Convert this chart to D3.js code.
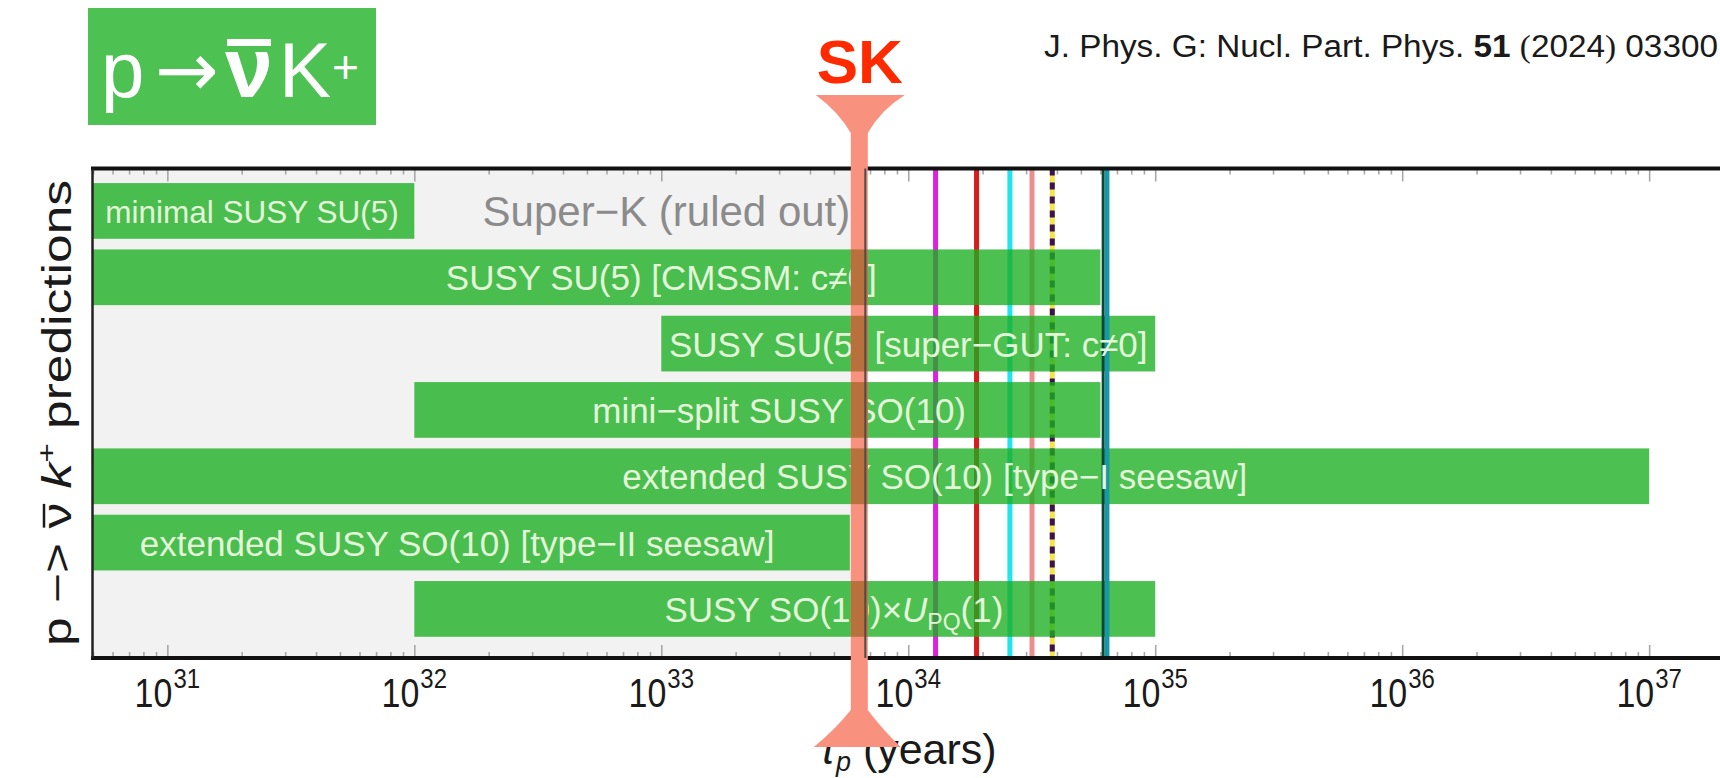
<!DOCTYPE html>
<html>
<head>
<meta charset="utf-8">
<script src="https://cdn.jsdelivr.net/npm/d3@7"></script>
<style>
  html, body { margin: 0; padding: 0; background: #ffffff; overflow: hidden; }
  svg { display: block; }
  text { font-family: "Liberation Sans", Arial, Helvetica, sans-serif; }
</style>
</head>
<body>
<svg id="chart" width="1720" height="778"></svg>
<script>
// ---------------- data ----------------
const models = [
  "minimal SUSY SU(5)",
  "SUSY SU(5) [CMSSM: c\u22600]",
  "SUSY SU(5) [super\u2212GUT: c\u22600]",
  "mini\u2212split SUSY SO(10)",
  "extended SUSY SO(10) [type\u2212I seesaw]",
  "extended SUSY SO(10) [type\u2212II seesaw]",
  "SUSY SO(10)\u00d7U_PQ(1)"
];
const lowerYears = [5e30, 5e30, 1e33, 1e32, 5e30, 5e30, 1e32];
const upperYears = [1e32, 6e34, 1e35, 6e34, 1e37, 5.8e33, 1e35];
const labelCentreYears = [2.2e31, 1e33, 1e34, 3e33, 1.28e34, 1.49e32, 5e33];
const superKLimit = 6.7e33;
const sensitivityYears = [1.29e34, 1.89e34, 2.58e34, 3.17e34, 3.83e34, 6.3e34];
const majorTicks = [1e31, 1e32, 1e33, 1e34, 1e35, 1e36, 1e37];
const tickExponents = ["31", "32", "33", "34", "35", "36", "37"];

// ---------------- styles ----------------
const sensitivityStyles = [
  { color: "#e020e0" },
  { color: "#d81c1c" },
  { color: "#22e4f0" },
  { color: "#ec8e8e" },
  { color: "#f3e44a", dash: "#3b1350" },
  { color: "#1598aa", edge: "#0c4636", top: true }
];

const svg = d3.select("#chart");
const plot = { left: 93, right: 1723.5, top: 168.5, bottom: 658 };
const x = d3.scaleLog().domain([5e30, 2e37]).range([plot.left, plot.right]);
const y = d3.scaleLinear().domain([-0.64, 6.74]).range([plot.top, plot.bottom]);
const barHalf = 0.42;

const defs = svg.append("defs");
defs.append("clipPath").attr("id", "plotClip")
  .append("rect").attr("x", plot.left).attr("y", plot.top)
  .attr("width", plot.right - plot.left).attr("height", plot.bottom - plot.top);

const gPlot = svg.append("g").attr("clip-path", "url(#plotClip)");

// Super-K excluded region
gPlot.append("rect")
  .attr("x", plot.left).attr("y", plot.top)
  .attr("width", x(superKLimit) - plot.left)
  .attr("height", plot.bottom - plot.top)
  .attr("fill", "#f2f2f2");

// future sensitivity lines
function drawSensitivity(g, i) {
  const st = sensitivityStyles[i];
  const xv = x(sensitivityYears[i]);
  if (st.edge) {
    g.append("line").attr("x1", xv - 2.5).attr("x2", xv - 2.5)
      .attr("y1", plot.top).attr("y2", plot.bottom)
      .attr("stroke", st.edge).attr("stroke-width", 3);
    g.append("line").attr("x1", xv + 1.5).attr("x2", xv + 1.5)
      .attr("y1", plot.top).attr("y2", plot.bottom)
      .attr("stroke", st.color).attr("stroke-width", 4.5);
    return;
  }
  g.append("line").attr("x1", xv).attr("x2", xv)
    .attr("y1", plot.top).attr("y2", plot.bottom)
    .attr("stroke", st.color).attr("stroke-width", 5);
  if (st.dash) {
    g.append("line").attr("x1", xv).attr("x2", xv)
      .attr("y1", plot.top).attr("y2", plot.bottom)
      .attr("stroke", st.dash).attr("stroke-width", 5)
      .attr("stroke-dasharray", "7,7");
  }
}
sensitivityYears.forEach((v, i) => { if (!sensitivityStyles[i].top) drawSensitivity(gPlot, i); });

// bars
gPlot.selectAll("rect.bar").data(models).join("rect")
  .attr("class", "bar")
  .attr("x", (d, i) => x(lowerYears[i]))
  .attr("width", (d, i) => x(upperYears[i]) - x(lowerYears[i]))
  .attr("y", (d, i) => y(i - barHalf))
  .attr("height", (d, i) => y(i + barHalf) - y(i - barHalf))
  .attr("fill", "rgb(26,174,31)")
  .attr("fill-opacity", 0.78);

// ticks (inside, top and bottom)
const allTicks = x.ticks();
const minorTicks = allTicks.filter(t => !majorTicks.some(m => Math.abs(m - t) / m < 1e-6));
function tickAxis(axisFn, yPos, vals, len) {
  const g = svg.append("g").attr("transform", `translate(0,${yPos})`)
    .call(axisFn(x).tickValues(vals).tickSize(-len).tickFormat(""));
  g.select(".domain").remove();
  g.selectAll(".tick line").attr("stroke", "#a8a8a8").attr("stroke-width", 1.6);
}
tickAxis(d3.axisBottom, plot.bottom, majorTicks, 13);
tickAxis(d3.axisBottom, plot.bottom, minorTicks, 6);
tickAxis(d3.axisTop, plot.top, majorTicks, 13);
tickAxis(d3.axisTop, plot.top, minorTicks, 6);

// sensitivity lines drawn over the bars
const gTop = svg.append("g").attr("clip-path", "url(#plotClip)");
sensitivityYears.forEach((v, i) => { if (sensitivityStyles[i].top) drawSensitivity(gTop, i); });

// bar labels
const labelFill = "#e3f6da";
models.forEach((name, i) => {
  const fs = i === 0 ? 31.5 : 35;
  const g = svg.append("g")
    .attr("transform", `translate(${x(labelCentreYears[i])},${y(i) + 0.37 * fs})`);
  const t = g.append("text").attr("text-anchor", "middle")
    .attr("font-size", fs).attr("fill", labelFill);
  if (name.includes("U_PQ")) {
    const [pre, post] = name.split("U_PQ");
    t.append("tspan").text(pre);
    t.append("tspan").attr("font-style", "italic").text("U");
    t.append("tspan").attr("font-size", 23).attr("dy", 8).text("PQ");
    t.append("tspan").attr("dy", -8).text(post);
  } else {
    t.text(name);
  }
});

// Super-K label
svg.append("text")
  .attr("x", x(superKLimit) - 15).attr("y", y(0) + 15)
  .attr("text-anchor", "end").attr("font-size", 42)
  .attr("fill", "#8b8b8b")
  .text("Super\u2212K (ruled out)");

// frame
svg.append("line").attr("x1", plot.left - 2).attr("x2", 1720).attr("y1", plot.top).attr("y2", plot.top)
  .attr("stroke", "#111").attr("stroke-width", 4);
svg.append("line").attr("x1", plot.left - 2).attr("x2", 1720).attr("y1", plot.bottom).attr("y2", plot.bottom)
  .attr("stroke", "#111").attr("stroke-width", 4);
svg.append("line").attr("x1", plot.left - 0.5).attr("x2", plot.left - 0.5).attr("y1", plot.top).attr("y2", plot.bottom)
  .attr("stroke", "#222").attr("stroke-width", 2.5);
svg.append("line").attr("x1", plot.right).attr("x2", plot.right).attr("y1", plot.top).attr("y2", plot.bottom)
  .attr("stroke", "#222").attr("stroke-width", 2.5);

// tick labels
majorTicks.forEach((v, i) => {
  const g = svg.append("g").attr("transform", `translate(${x(v)},707) scale(1,1.18)`);
  const t = g.append("text").attr("text-anchor", "middle").attr("fill", "#1a1a1a");
  t.append("tspan").attr("font-size", 34).text("10");
  t.append("tspan").attr("font-size", 24).attr("dy", -16).attr("dx", 1).text(tickExponents[i]);
});

// x axis title
const xt = svg.append("text")
  .attr("x", (plot.left + plot.right) / 2).attr("y", 764)
  .attr("text-anchor", "middle").attr("font-size", 43).attr("fill", "#1a1a1a");
xt.append("tspan").attr("font-style", "italic").text("\u03c4");
xt.append("tspan").attr("font-style", "italic").attr("font-size", 27).attr("dy", 7).text("p");
xt.append("tspan").attr("dy", -7).text(" (years)");

// y axis title
const gy = svg.append("g").attr("transform", "translate(71,413) rotate(-90)");
const yt = gy.append("text").attr("text-anchor", "middle").attr("font-size", 40)
  .attr("fill", "#1a1a1a")
  .attr("textLength", 466).attr("lengthAdjust", "spacingAndGlyphs");
yt.append("tspan").text("p \u2212> ");
yt.append("tspan").text("\u03bd");
yt.append("tspan").text(" ");
yt.append("tspan").attr("font-style", "italic").text("k");
yt.append("tspan").attr("font-size", 26).attr("dy", -16).text("+");
yt.append("tspan").attr("dy", 16).text(" predictions");
{
  const n = yt.node();
  const s = n.getStartPositionOfChar(5), e = n.getEndPositionOfChar(5);
  gy.append("line").attr("x1", s.x + 1).attr("x2", e.x - 1)
    .attr("y1", s.y - 27).attr("y2", s.y - 27)
    .attr("stroke", "#1a1a1a").attr("stroke-width", 2.5);
}

// SK marker (hand-drawn style funnel)
const xs = x(superKLimit) - 6.5;
const stemL = xs - 8, stemR = xs + 9;
const funnel = `M${xs - 43},95 L${xs + 46},95 Q${xs + 22},110 ${stemR},133 L${stemR},710 Q${xs + 24},730 ${xs + 42},747 L${xs - 45},747 Q${xs - 24},730 ${stemL},710 L${stemL},133 Q${xs - 20},112 ${xs - 43},95 Z`;
svg.append("path").attr("d", funnel).attr("fill", "#f9917f");
// where the marker crosses the green bars it looks brownish
models.forEach((d, i) => {
  const x0 = Math.max(x(lowerYears[i]), stemL);
  const x1 = Math.min(x(upperYears[i]), stemR);
  if (x1 > x0) {
    svg.append("rect").attr("x", x0).attr("width", x1 - x0)
      .attr("y", y(i - barHalf)).attr("height", y(i + barHalf) - y(i - barHalf))
      .attr("fill", "#b8703c");
  }
});
// Super-K limit line
svg.append("line").attr("x1", x(superKLimit)).attr("x2", x(superKLimit))
  .attr("y1", plot.top).attr("y2", plot.bottom)
  .attr("stroke", "#4d4d4d").attr("stroke-width", 2);

svg.append("text").attr("x", xs + 1).attr("y", 83)
  .attr("text-anchor", "middle").attr("font-size", 62).attr("font-weight", "bold")
  .attr("fill", "#ff2a00").text("SK");

// title box
svg.append("rect").attr("x", 88).attr("y", 8).attr("width", 288).attr("height", 117)
  .attr("fill", "#4dc151");
const tt = svg.append("text").attr("y", 97).attr("fill", "#ffffff").attr("font-size", 78);
tt.append("tspan").attr("x", 101).text("p");
tt.append("tspan").attr("x", 155).attr("dy", -1)
  .attr("font-family", "'DejaVu Sans', sans-serif").attr("font-size", 76).text("\u2192");
tt.append("tspan").attr("x", 225).attr("dy", 1).attr("font-size", 86).attr("font-weight", "bold").text("\u03bd");
tt.append("tspan").attr("x", 279).text("K");
tt.append("tspan").attr("x", 332).attr("font-size", 46).attr("dy", -14).text("+");
{
  const n = tt.node();
  const s = n.getStartPositionOfChar(2), e = n.getEndPositionOfChar(2);
  svg.append("rect").attr("x", s.x + 2).attr("width", e.x - s.x - 4)
    .attr("y", 39).attr("height", 7).attr("fill", "#ffffff");
}

// citation
const ct = svg.append("text").attr("x", 1044).attr("y", 57).attr("font-size", 31)
  .attr("fill", "#1a1a1a")
  .attr("textLength", 674).attr("lengthAdjust", "spacingAndGlyphs");
ct.append("tspan").text("J. Phys. G: Nucl. Part. Phys. ");
ct.append("tspan").attr("font-weight", "bold").text("51");
ct.append("tspan").text(" ");
ct.append("tspan").attr("font-family", "'Liberation Serif', 'Times New Roman', serif").text("(");
ct.append("tspan").text("2024");
ct.append("tspan").attr("font-family", "'Liberation Serif', 'Times New Roman', serif").text(")");
ct.append("tspan").text(" 03300");
</script>
</body>
</html>
